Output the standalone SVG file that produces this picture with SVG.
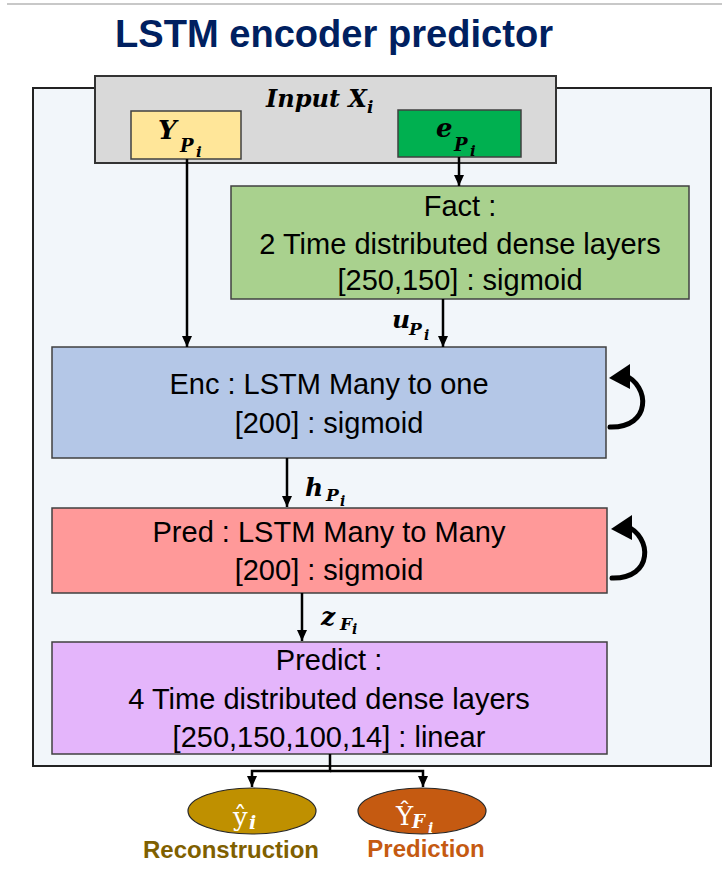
<svg xmlns="http://www.w3.org/2000/svg" width="722" height="874" viewBox="0 0 722 874">
<style>
.box{stroke:#404040;stroke-width:1.5}
.t{font-family:"Liberation Sans",Arial,sans-serif;font-size:29px;fill:#000;text-anchor:middle}
.m{font-family:"DejaVu Serif","Liberation Serif",serif;font-weight:bold;font-style:italic;fill:#000}
.c{stroke:#000;stroke-width:2.5;fill:none}
.loop{stroke:#000;stroke-width:5;fill:none;stroke-linecap:round}
</style>
<defs>
<marker id="ah" markerUnits="userSpaceOnUse" markerWidth="12" markerHeight="12" refX="11" refY="6" orient="auto">
<path d="M0,1 L11,6 L0,11 z" fill="#000"/>
</marker>
</defs>
<rect width="722" height="874" fill="#fff"/>
<line x1="7" y1="4" x2="722" y2="4" stroke="#c8c8c8" stroke-width="2"/>
<text x="334" y="47" font-family="Liberation Sans,Arial,sans-serif" font-weight="bold" font-size="39" fill="#002060" text-anchor="middle" textLength="438" lengthAdjust="spacingAndGlyphs">LSTM encoder predictor</text>

<g id="outer"><rect x="33" y="88" width="678" height="678" fill="#F2F6FA" stroke="#222" stroke-width="2"/></g>

<g id="input">
<rect x="95" y="76" width="461" height="87" fill="#D9D9D9" stroke="#333" stroke-width="2"/>
<text class="m" x="266" y="107" font-size="24">Input X</text>
<text class="m" x="367" y="113" font-size="17">i</text>
</g>
<g id="yp">
<rect class="box" x="131" y="111" width="110" height="48" fill="#FFE699"/>
<text class="m" x="158" y="139" font-size="26">Y</text>
<text class="m" x="180" y="152" font-size="18">P</text>
<text class="m" x="196" y="157" font-size="15">i</text>
</g>
<g id="ep">
<rect class="box" x="398" y="110" width="123" height="47" fill="#00B050"/>
<text class="m" x="436" y="137" font-size="26">e</text>
<text class="m" x="454" y="151" font-size="18">P</text>
<text class="m" x="470" y="156" font-size="15">i</text>
</g>

<g id="fact">
<rect class="box" x="231" y="186" width="458" height="113" fill="#A9D18E"/>
<text class="t" x="460" y="216">Fact :</text>
<text class="t" x="460" y="254">2 Time distributed dense layers</text>
<text class="t" x="460" y="290">[250,150] : sigmoid</text>
</g>

<g id="enc">
<rect class="box" x="52" y="347" width="554" height="111" fill="#B4C7E7"/>
<text class="t" x="329" y="394">Enc : LSTM Many to one</text>
<text class="t" x="329" y="433">[200] : sigmoid</text>
</g>

<g id="pred">
<rect class="box" x="52" y="508" width="555" height="85" fill="#FF9999"/>
<text class="t" x="329" y="542">Pred : LSTM Many to Many</text>
<text class="t" x="329" y="580">[200] : sigmoid</text>
</g>

<g id="predict">
<rect class="box" x="52" y="642" width="555" height="112" fill="#E4B5FB"/>
<text class="t" x="329" y="670">Predict :</text>
<text class="t" x="329" y="709">4 Time distributed dense layers</text>
<text class="t" x="329" y="747">[250,150,100,14] : linear</text>
</g>

<g id="recon">
<ellipse cx="252" cy="811" rx="64" ry="23" fill="#BF9000" stroke="#262626" stroke-width="1.2"/>
<text x="233" y="826" font-family="DejaVu Serif,serif" font-size="26" fill="#fff">ŷ</text>
<text x="249" y="829" font-family="DejaVu Serif,serif" font-weight="bold" font-style="italic" font-size="19" fill="#fff">i</text>
<text x="231" y="858" font-family="Liberation Sans,Arial,sans-serif" font-weight="bold" font-size="24" fill="#7F6000" text-anchor="middle">Reconstruction</text>
</g>
<g id="prediction">
<ellipse cx="422" cy="811" rx="64" ry="23" fill="#C55A11" stroke="#262626" stroke-width="1.2"/>
<text x="396" y="825" font-family="DejaVu Serif,serif" font-size="26" fill="#fff">Ŷ</text>
<text x="412" y="828" font-family="DejaVu Serif,serif" font-weight="bold" font-style="italic" font-size="18" fill="#fff">F</text>
<text x="428" y="833" font-family="DejaVu Serif,serif" font-weight="bold" font-style="italic" font-size="14" fill="#fff">i</text>
<text x="426" y="857" font-family="Liberation Sans,Arial,sans-serif" font-weight="bold" font-size="24" fill="#C55A11" text-anchor="middle">Prediction</text>
</g>

<g id="connectors">
<line class="c" x1="187" y1="159" x2="187" y2="347" marker-end="url(#ah)"/>
<line class="c" x1="459" y1="157" x2="459" y2="186" marker-end="url(#ah)"/>
<line class="c" x1="443" y1="299" x2="443" y2="347" marker-end="url(#ah)"/>
<line class="c" x1="287" y1="458" x2="287" y2="507" marker-end="url(#ah)"/>
<line class="c" x1="302" y1="593" x2="302" y2="641" marker-end="url(#ah)"/>
<polyline class="c" points="330,754 330,771 252,771 252,787" marker-end="url(#ah)"/>
<polyline class="c" points="330,771 423,771 423,787" marker-end="url(#ah)"/>
<g id="loop-enc">
<path class="loop" d="M624,375 C650,385 652,428 610,427"/>
<polygon points="609,378 630,364 630,389" fill="#000"/>
</g>
<g id="loop-pred" transform="translate(2,151)">
<path class="loop" d="M624,375 C650,385 652,428 610,427"/>
<polygon points="609,378 630,364 630,389" fill="#000"/>
</g>
<text class="m" x="392" y="328" font-size="25">u</text>
<text class="m" x="409" y="335" font-size="17">P</text>
<text class="m" x="424" y="340" font-size="14">i</text>
<text class="m" x="305" y="496" font-size="25">h</text>
<text class="m" x="326" y="501" font-size="17">P</text>
<text class="m" x="340" y="506" font-size="14">i</text>
<text class="m" x="321" y="625" font-size="25">z</text>
<text class="m" x="340" y="630" font-size="17">F</text>
<text class="m" x="352" y="634" font-size="14">i</text>
</g>
</svg>
